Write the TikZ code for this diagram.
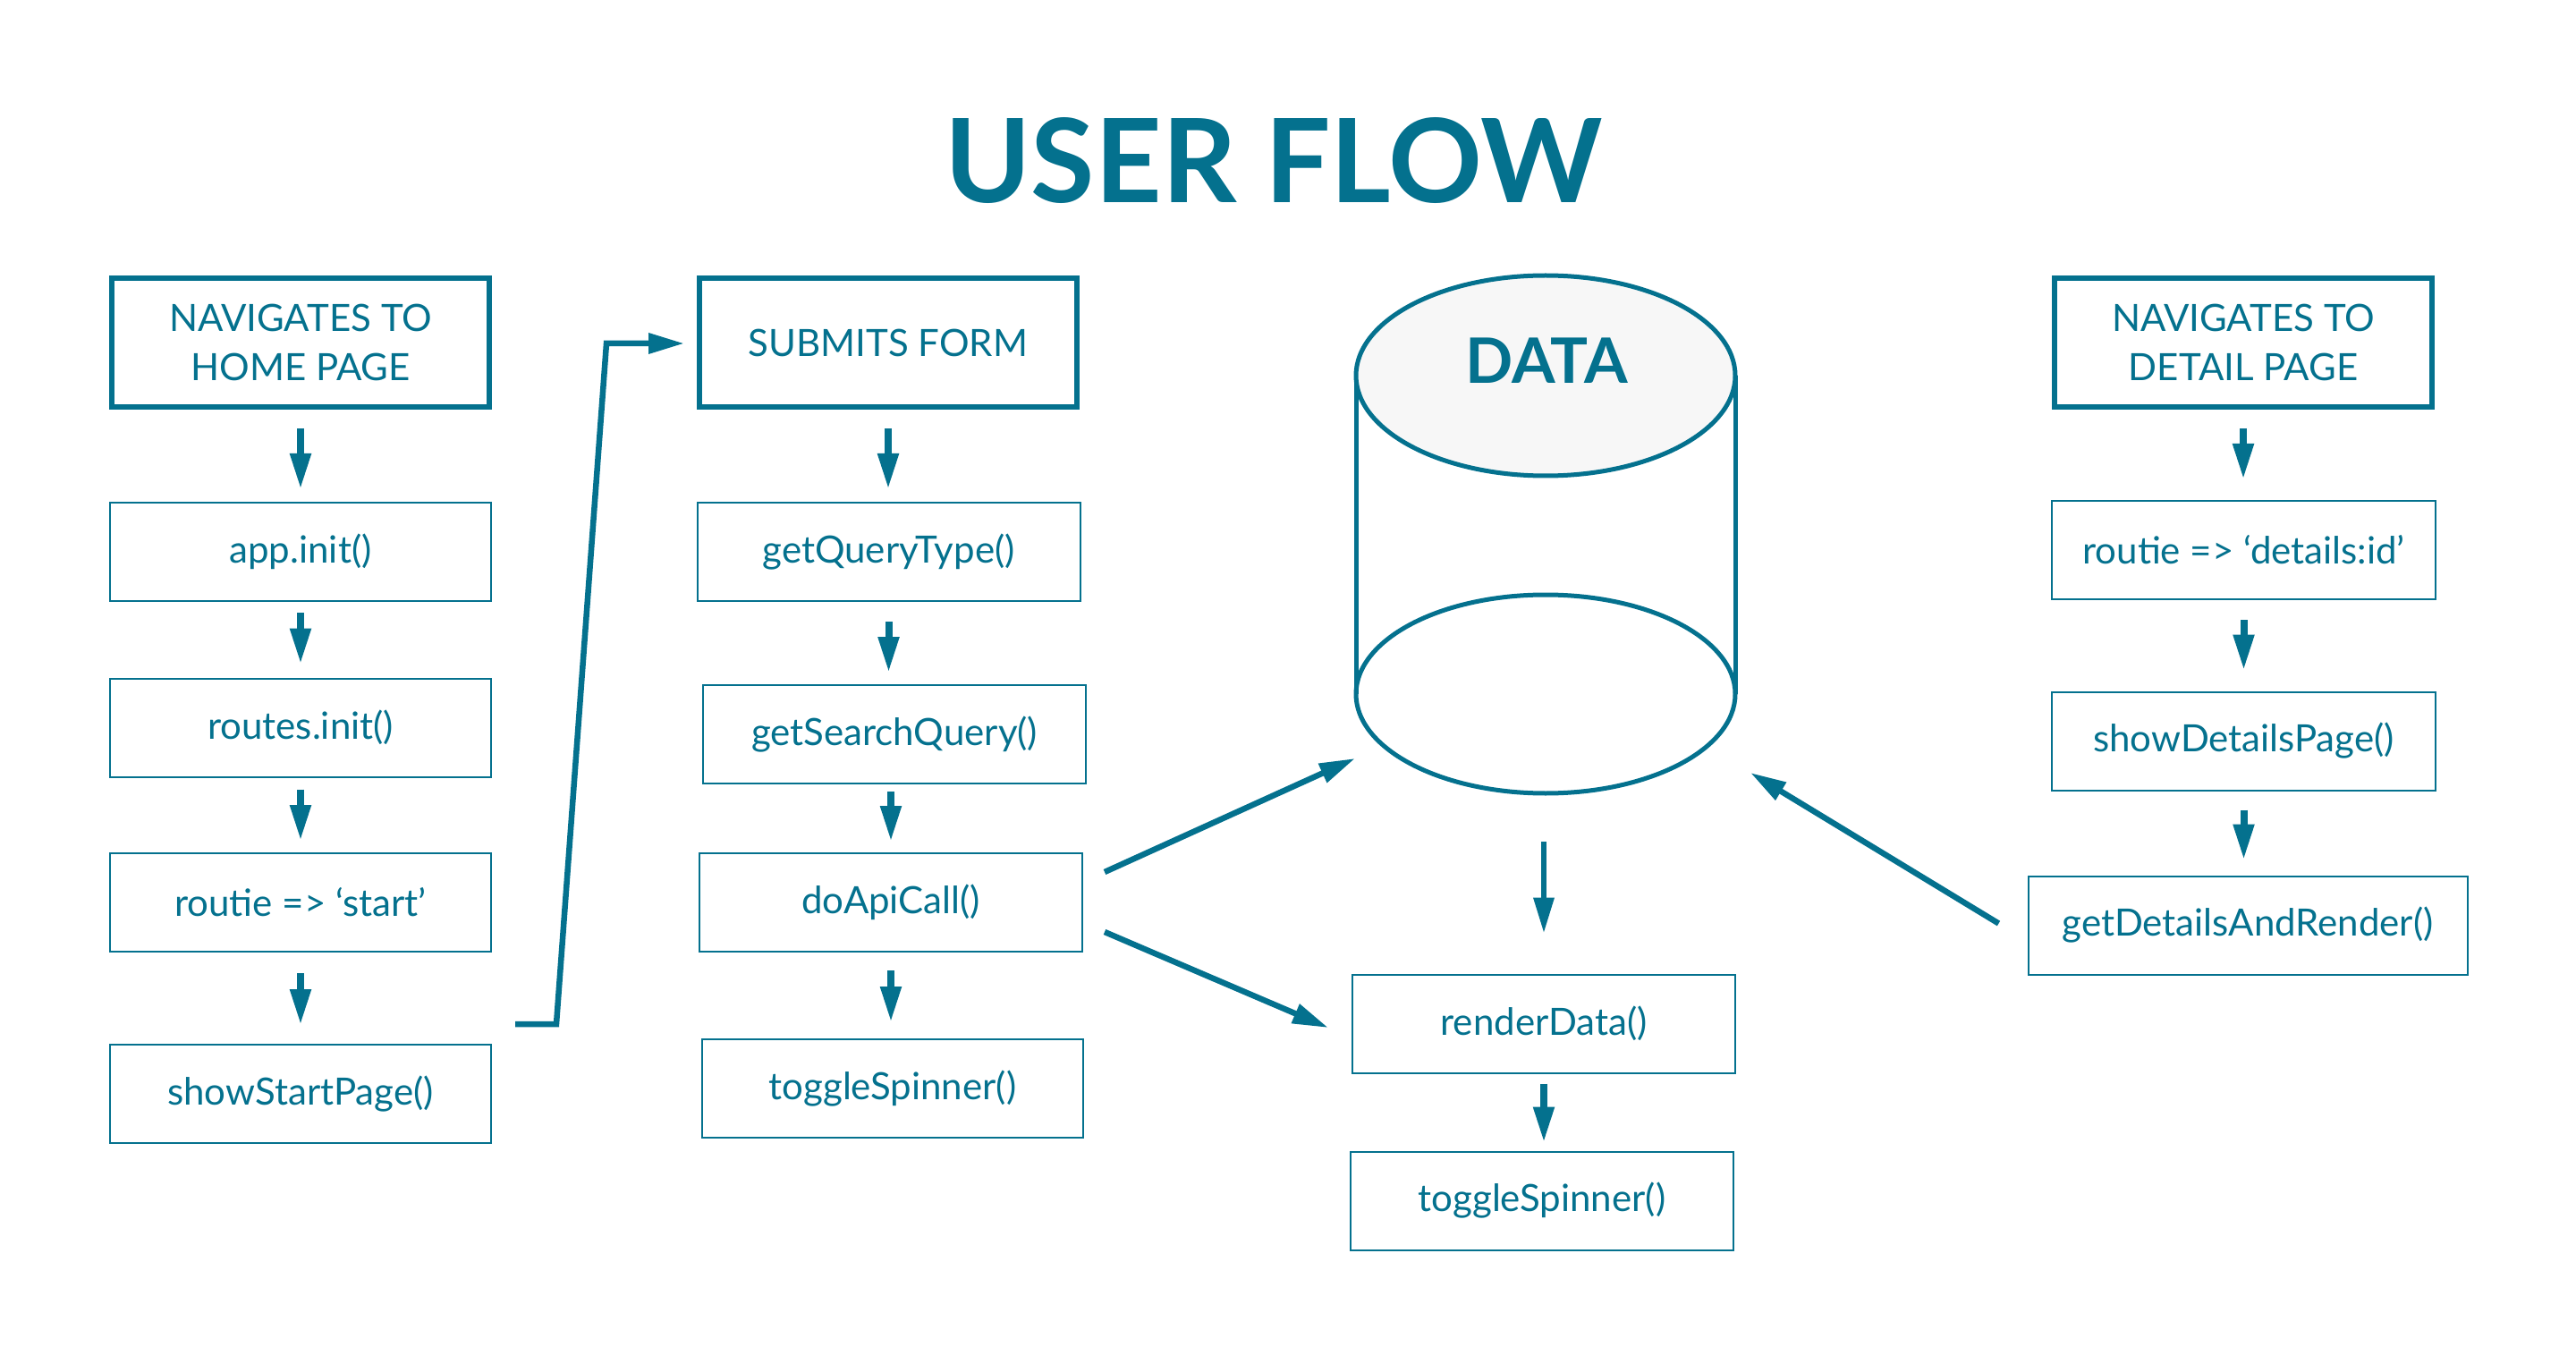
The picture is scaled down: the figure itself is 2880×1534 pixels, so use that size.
\documentclass[tikz,border=0pt]{standalone}
\usepackage{fontspec}
\setmainfont{Lato}
\usetikzlibrary{arrows.meta,calc}
\definecolor{flowteal}{RGB}{4,113,142}
\definecolor{canfill}{RGB}{247,247,247}
\tikzset{every picture/.style={line width=0.75pt}}

\begin{document}
\begin{tikzpicture}[x=0.5pt,y=0.5pt,yscale=-1,xscale=1,
	headbox/.style={draw=flowteal,line width=2.75pt,text=flowteal,minimum width=211pt,minimum height=72pt,inner sep=0pt,outer sep=0pt,align=center,font=\fontsize{21}{27.5}\selectfont},
	callbox/.style={draw=flowteal,line width=1pt,text=flowteal,minimum width=213pt,minimum height=55pt,inner sep=0pt,outer sep=0pt,font=\fontsize{21}{27.5}\selectfont},
	flowarrow/.style={draw=flowteal,line width=4pt,-{Triangle[length=20pt,width=11pt]}},
	bigarrow/.style={draw=flowteal,line width=3.25pt,-{Triangle[length=20pt,width=11pt]}},
	canline/.style={draw=flowteal,line width=2.5pt}]
				\path[fill=white] (0,0) rectangle (2880,1534);
				\useasboundingbox (0,0) rectangle (2880,1534);
				% Text Node
				\node (title) at (1424,180) [text=flowteal,font=\fontsize{65}{72}\selectfont\bfseries] {USER FLOW};
				%Shape: Rectangle
				\node (home) at (336,383) [headbox] {NAVIGATES TO\\HOME PAGE};
				\node (appinit) at (336,617) [callbox] {app.init()};
				\node (routesinit) at (336,813.5) [callbox] {routes.init()};
				\node (routiestart) at (336,1009) [callbox] {routie => ‘start’};
				\node (showstart) at (336,1223) [callbox] {showStartPage()};
				%Shape: Rectangle
				\node (submit) at (993,383) [headbox] {SUBMITS FORM};
				\node (querytype) at (993.5,617) [callbox,minimum width=214pt] {getQueryType()};
				\node (searchquery) at (1000,821) [callbox,minimum width=214pt] {getSearchQuery()};
				\node (apicall) at (996,1009) [callbox,minimum width=214pt] {doApiCall()};
				\node (spinnerone) at (998,1217) [callbox,minimum width=213pt] {toggleSpinner()};
				%Shape: Can
				\coordinate (cantop) at (1728,420);
				\coordinate (canbot) at (1728,776);
				\draw[canline] ($(cantop)+(-212,0)$) -- ($(canbot)+(-212,0)$);
				\draw[canline] ($(cantop)+(212,0)$) -- ($(canbot)+(212,0)$);
				\draw[canline] (canbot) ellipse [x radius=212,y radius=111];
				\draw[canline,fill=canfill] (cantop) ellipse [x radius=212,y radius=112];
				\node (datalabel) at (1729,403) [text=flowteal,font=\fontsize{35}{40}\selectfont\bfseries] {DATA};
				%Shape: Rectangle
				\node (render) at (1726,1144.5) [callbox,minimum width=214pt] {renderData()};
				\node (spinnertwo) at (1724,1342.5) [callbox,minimum width=214pt] {toggleSpinner()};
				%Shape: Rectangle
				\node (detail) at (2508,383) [headbox] {NAVIGATES TO\\DETAIL PAGE};
				\node (routiedetail) at (2508.5,615) [callbox,minimum width=214.5pt] {routie => ‘details:id’};
				\node (showdetail) at (2508.5,828.5) [callbox,minimum width=214.5pt] {showDetailsPage()};
				\node (getdetail) at (2513,1034.5) [callbox,minimum width=245.5pt] {getDetailsAndRender()};
				%Straight Lines
				\draw[flowarrow,shorten <=12pt,shorten >=7.5pt] (home.south) -- (home.south |- appinit.north);
				\draw[flowarrow,shorten <=6.5pt,shorten >=8pt] (appinit.south) -- (appinit.south |- routesinit.north);
				\draw[flowarrow,shorten <=7pt,shorten >=7pt] (routesinit.south) -- (routesinit.south |- routiestart.north);
				\draw[flowarrow,shorten <=12pt,shorten >=11pt] (routiestart.south) -- (routiestart.south |- showstart.north);
				\draw[flowarrow,shorten <=12pt,shorten >=7.5pt] (submit.south) -- (submit.south |- querytype.north);
				\draw[flowarrow,shorten <=11.5pt,shorten >=7pt] (querytype.south) -- (querytype.south |- searchquery.north);
				\draw[flowarrow,shorten <=4.5pt,shorten >=6.5pt] (searchquery.south -| apicall.north) -- (apicall.north);
				\draw[flowarrow,shorten <=10.5pt,shorten >=9.5pt] (apicall.south) -- (apicall.south |- spinnerone.north);
				\draw[flowarrow,shorten <=6pt,shorten >=5pt] (render.south) -- (render.south |- spinnertwo.north);
				\draw[flowarrow,shorten <=12pt,shorten >=12pt] (detail.south) -- (detail.south |- routiedetail.north);
				\draw[flowarrow,shorten <=11.5pt,shorten >=12pt] (routiedetail.south) -- (routiedetail.south |- showdetail.north);
				\draw[flowarrow,shorten <=11pt,shorten >=9pt] (showdetail.south) -- (showdetail.south |- getdetail.north);
				%Straight Lines
				\draw[bigarrow] ($(showstart.east)+(27,-78)$) -- ++(46,0) -- ($(submit.west)+(-104,1)$) -- ($(submit.west)+(-17,1)$);
				\draw[bigarrow] ($(apicall.east)+(25,-34)$) -- ($(canbot)+(-213,72)$);
				\draw[bigarrow] ($(apicall.east)+(25,33)$) -- ($(render.west)+(-27,4.5)$);
				\draw[bigarrow] ($(canbot)+(-2,165)$) -- ($(render.north)+(0,-46)$);
				\draw[bigarrow] ($(getdetail.west)+(-33,-2)$) -- ($(canbot)+(229,88)$);
\end{tikzpicture}
\end{document}
